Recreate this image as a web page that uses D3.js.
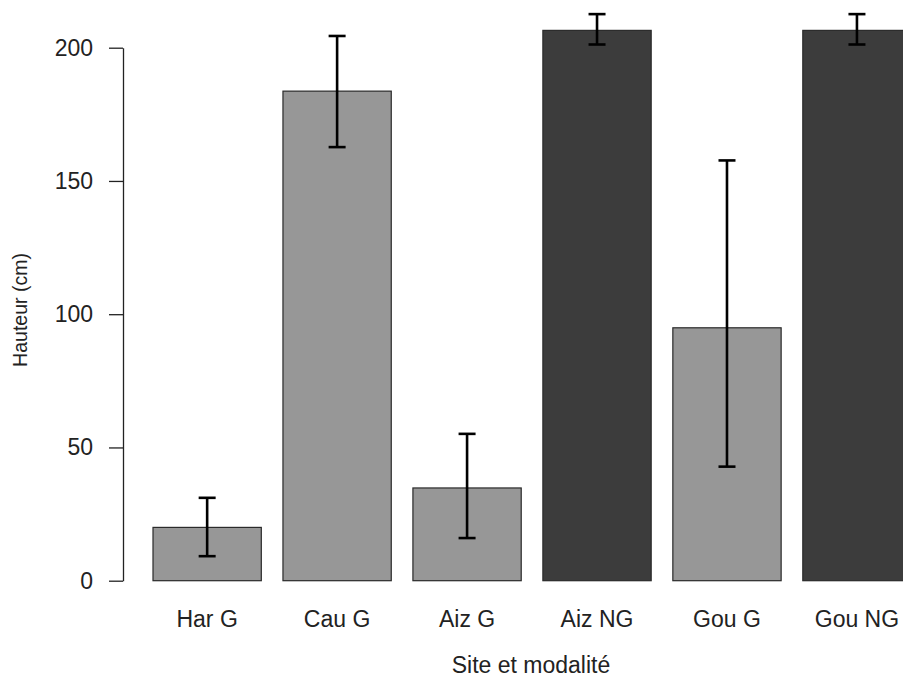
<!DOCTYPE html>
<html>
<head>
<meta charset="utf-8">
<script src="https://cdn.jsdelivr.net/npm/d3@7"></script>
<style>
  body { margin: 0; background: #fff; }
  svg { display: block; font-family: "Liberation Sans", Arial, sans-serif; }
</style>
</head>
<body>
<div id="root"></div>
<script>
// data
let sites = ['Har G', 'Cau G', 'Aiz G', 'Aiz NG', 'Gou G', 'Gou NG'],
    heights = [20.0, 183.7, 34.8, 206.5, 94.9, 206.5],
    errLow = [9.2, 162.7, 16.0, 201.2, 42.8, 201.2],
    errHigh = [31.1, 204.4, 55.1, 212.6, 157.7, 212.6],
    grazed = [true, true, true, false, true, false],
    yTicks = [0, 50, 100, 150, 200];

let width = 903, height = 680,
    lightGrey = '#979797', darkGrey = '#3c3c3c';

let svg = d3.select('#root').append('svg')
    .attr('width', width)
    .attr('height', height);

// barplot units: bars of width 1 with space 0.2, like R
let x = d3.scaleLinear().domain([0.2, 1.2]).range([153, 261.3]),
    y = d3.scaleLinear().domain([0, 200]).range([580.7, 47.7]);

let barLeft = i => x(0.2 + 1.2 * i),
    barMid = i => x(0.7 + 1.2 * i),
    barW = x(1.2) - x(0.2);

svg.append('g')
    .selectAll('rect')
    .data(heights)
    .enter()
    .append('rect')
    .attr('x', (d, i) => barLeft(i))
    .attr('y', d => y(d))
    .attr('width', barW)
    .attr('height', d => y(0) - y(d))
    .attr('fill', (d, i) => grazed[i] ? lightGrey : darkGrey)
    .attr('stroke', '#2a2a2a')
    .attr('stroke-width', 1.2);

// error bars
svg.append('g')
    .attr('stroke', '#000')
    .attr('stroke-width', 2.6)
    .selectAll('g')
    .data(sites)
    .enter()
    .append('g')
    .each(function (d, i) {
        let g = d3.select(this), cx = barMid(i);
        g.append('line')
            .attr('x1', cx).attr('x2', cx)
            .attr('y1', y(errLow[i])).attr('y2', y(errHigh[i]));
        [errLow[i], errHigh[i]].forEach(v => {
            g.append('line')
                .attr('x1', cx - 8.5).attr('x2', cx + 8.5)
                .attr('y1', y(v)).attr('y2', y(v));
        });
    });

// y axis
let yAxis = svg.append('g')
    .attr('transform', 'translate(123,0)')
    .call(d3.axisLeft(y).tickValues(yTicks).tickSize(14).tickPadding(16).tickSizeOuter(0));
yAxis.select('.domain').attr('stroke', '#222').attr('stroke-width', 1.3);
yAxis.selectAll('.tick line').attr('stroke', '#222').attr('stroke-width', 1.3);
yAxis.selectAll('.tick text')
    .attr('font-size', '23px')
    .attr('font-family', '"Liberation Sans", Arial, sans-serif')
    .attr('fill', '#222');

// x labels
svg.append('g')
    .selectAll('text')
    .data(sites)
    .enter()
    .append('text')
    .attr('x', (d, i) => barMid(i))
    .attr('y', 627)
    .attr('text-anchor', 'middle')
    .attr('font-size', '23px')
    .attr('fill', '#222')
    .text(d => d);

// axis titles
svg.append('text')
    .attr('x', 531)
    .attr('y', 673)
    .attr('text-anchor', 'middle')
    .attr('font-size', '23px')
    .attr('fill', '#222')
    .text('Site et modalité');

svg.append('text')
    .attr('transform', 'translate(27,310) rotate(-90)')
    .attr('text-anchor', 'middle')
    .attr('font-size', '19.5px')
    .attr('fill', '#222')
    .text('Hauteur (cm)');
</script>
</body>
</html>
